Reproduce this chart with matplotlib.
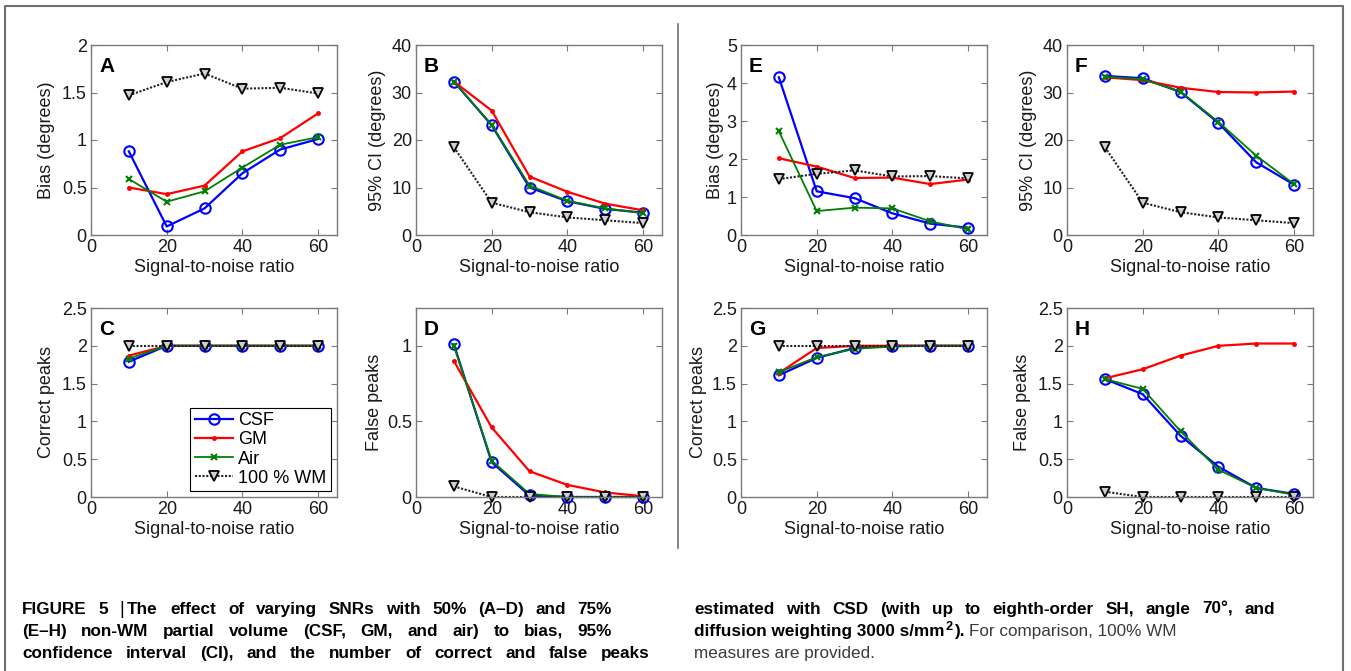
import matplotlib
matplotlib.use('Agg')
import matplotlib.pyplot as plt
from matplotlib.lines import Line2D
from matplotlib.ticker import FuncFormatter

plt.rcParams['font.family'] = ['Liberation Sans', 'DejaVu Sans']

# ---------------- data ----------------
snr = [10, 20, 30, 40, 50, 60]
series_names = ["CSF", "GM", "Air", "100 % WM"]

# 50% partial volume (A-D)
a_csf = [0.88, 0.09, 0.28, 0.65, 0.90, 1.01]
a_gm = [0.50, 0.43, 0.52, 0.88, 1.02, 1.28]
a_air = [0.59, 0.35, 0.46, 0.71, 0.95, 1.03]
wm_bias = [1.47, 1.61, 1.70, 1.54, 1.55, 1.49]

b_csf = [32.3, 23.1, 10.0, 7.1, 5.5, 4.7]
b_gm = [32.3, 26.2, 12.3, 9.1, 6.6, 5.2]
b_air = [32.3, 23.2, 10.4, 7.2, 5.6, 4.6]
wm_ci = [18.5, 6.8, 4.8, 3.7, 3.1, 2.5]

c_csf = [1.79, 2.0, 2.0, 2.0, 2.0, 2.0]
c_gm = [1.87, 2.0, 2.0, 2.0, 2.0, 2.0]
c_air = [1.83, 2.0, 2.0, 2.0, 2.0, 2.0]
wm_correct = [2.0, 2.0, 2.0, 2.0, 2.0, 2.0]

d_csf = [1.01, 0.23, 0.01, 0.0, 0.0, 0.0]
d_gm = [0.90, 0.46, 0.17, 0.08, 0.03, 0.005]
d_air = [1.00, 0.24, 0.02, 0.0, 0.0, 0.0]
wm_false = [0.07, 0.0, 0.0, 0.0, 0.0, 0.0]

# 75% partial volume (E-H)
e_csf = [4.15, 1.15, 0.97, 0.57, 0.30, 0.19]
e_gm = [2.02, 1.80, 1.50, 1.51, 1.34, 1.46]
e_air = [2.73, 0.63, 0.72, 0.70, 0.36, 0.15]

f_csf = [33.5, 33.0, 30.1, 23.6, 15.3, 10.6]
f_gm = [33.2, 32.6, 31.0, 30.1, 30.0, 30.2]
f_air = [33.3, 32.8, 30.2, 23.8, 16.7, 10.7]

g_csf = [1.61, 1.84, 1.97, 2.0, 2.0, 2.0]
g_gm = [1.64, 1.97, 2.0, 2.0, 2.0, 2.0]
g_air = [1.65, 1.85, 1.96, 1.99, 2.0, 2.0]

h_csf = [1.56, 1.36, 0.81, 0.40, 0.12, 0.04]
h_gm = [1.57, 1.69, 1.87, 2.00, 2.03, 2.03]
h_air = [1.56, 1.43, 0.87, 0.36, 0.12, 0.03]

ylabels = ["Bias (degrees)", "95% CI (degrees)", "Correct peaks", "False peaks"]
xlabel = "Signal-to-noise ratio"
letters = ["A", "B", "C", "D", "E", "F", "G", "H"]

# ---------------- layout ----------------
W, H = 1351, 671
fig = plt.figure(figsize=(W / 100, H / 100), dpi=100)


def rect(l, r, t, b):
    return [l / W, 1 - b / H, (r - l) / W, (b - t) / H]


styles = [
    dict(color='#0000ff', marker='o', mfc='none', mec='#0000ff', ms=7.5, mew=1.5, lw=1.6),
    dict(color='#ff0000', marker='.', ms=5, lw=1.6),
    dict(color='#008000', marker='x', ms=5, mew=1.5, lw=1.3),
    dict(color='#222222', ls=(0, (1.0, 0.8)), marker='v', mfc='#d0d0d0', mec='black',
         ms=7.5, mew=1.3, lw=1.5),
]

panels = [
    # letter, series, ylim, yticks, ylabel, rect(px), ylabel x (px, right edge)
    ("A", [a_csf, a_gm, a_air, wm_bias], (0, 2), [0, 0.5, 1, 1.5, 2], ylabels[0], (91, 337, 45, 235), 55),
    ("B", [b_csf, b_gm, b_air, wm_ci], (0, 40), [0, 10, 20, 30, 40], ylabels[1], (416, 662, 45, 235), 386),
    ("C", [c_csf, c_gm, c_air, wm_correct], (0, 2.5), [0, 0.5, 1, 1.5, 2, 2.5], ylabels[2], (91, 337, 308, 497), 55),
    ("D", [d_csf, d_gm, d_air, wm_false], (0, 1.25), [0, 0.5, 1], ylabels[3], (416, 662, 308, 497), 383),
    ("E", [e_csf, e_gm, e_air, wm_bias], (0, 5), [0, 1, 2, 3, 4, 5], ylabels[0], (741, 987, 45, 235), 724),
    ("F", [f_csf, f_gm, f_air, wm_ci], (0, 40), [0, 10, 20, 30, 40], ylabels[1], (1067, 1313, 45, 235), 1037),
    ("G", [g_csf, g_gm, g_air, wm_correct], (0, 2.5), [0, 0.5, 1, 1.5, 2, 2.5], ylabels[2], (741, 987, 308, 497), 707),
    ("H", [h_csf, h_gm, h_air, wm_false], (0, 2.5), [0, 0.5, 1, 1.5, 2, 2.5], ylabels[3], (1067, 1313, 308, 497), 1031),
]

fmt = FuncFormatter(lambda v, p: f"{v:g}")
spine_col = '#7a7a7a'

for letter, series, ylim, yticks, ylab, (l, r, t, b), ylx in panels:
    ax = fig.add_axes(rect(l, r, t, b))
    for name, vals, st in zip(series_names, series, styles):
        ax.plot(snr, vals, label=name, clip_on=False, **st)
    ax.set_xlim(0, 65)
    ax.set_ylim(*ylim)
    ax.set_xticks([0, 20, 40, 60])
    ax.set_yticks(yticks)
    ax.xaxis.set_major_formatter(fmt)
    ax.yaxis.set_major_formatter(fmt)
    ax.tick_params(direction='in', length=4, width=0.8, color=spine_col,
                   labelsize=13, labelcolor='#1a1a1a', top=True, right=True, pad=3)
    for s in ax.spines.values():
        s.set_color(spine_col)
        s.set_linewidth(1.0)
    ax.set_xlabel(xlabel, fontsize=13, color='#1a1a1a', labelpad=2)
    ax.set_ylabel(ylab, fontsize=13, color='#1a1a1a')
    ax.yaxis.set_label_coords((ylx - l) / (r - l), 0.5)
    ax.text(0.033, 0.935, letter, transform=ax.transAxes, fontsize=15,
            fontweight='bold', va='top', ha='left')
    if letter == "C":
        leg = ax.legend(loc='lower right', bbox_to_anchor=(0.975, 0.03), fontsize=13,
                        frameon=True, fancybox=False, edgecolor='black', framealpha=1,
                        handlelength=2.1, handletextpad=0.3, labelspacing=0.12,
                        borderpad=0.25, borderaxespad=0.0)
        leg.get_frame().set_linewidth(0.8)

# frame and divider
fig.add_artist(Line2D([5 / W, 5 / W, 1343 / W, 1343 / W],
                      [0, 1 - 6 / H, 1 - 6 / H, 0], color='#707070', lw=1.5))
fig.add_artist(Line2D([678 / W, 678 / W], [1 - 24 / H, 1 - 548 / H], color='#707070', lw=1.2))

# ---------------- caption ----------------
renderer = fig.canvas.get_renderer()
cap_fs = 12.3
B = dict(fontsize=cap_fs, fontweight='bold', color='black')
R = dict(fontsize=cap_fs, color='#3a3a3a')
BAR = dict(fontsize=cap_fs + 1, color='black')


def put(x_px, y_px, txt, kw):
    tt = fig.text(x_px / W, 1 - y_px / H, txt, va='baseline', ha='left', **kw)
    return tt.get_window_extent(renderer).width


def justify(x0, x1, y_px, words):
    """words: list of words, each a list of (text, style) pieces;
    spread them to fill x0..x1."""
    objs = []
    widths = []
    for pieces in words:
        row = []
        wsum = 0
        for txt, kw in pieces:
            tt = fig.text(0, 0, txt, va='baseline', ha='left', **kw)
            wd = tt.get_window_extent(renderer).width + (2 if len(pieces) > 1 else 0)
            row.append((tt, wd))
            wsum += wd
        objs.append(row)
        widths.append(wsum)
    gap = (x1 - x0 - sum(widths)) / (len(words) - 1)
    x = x0
    for row, wsum in zip(objs, widths):
        xx = x
        for tt, wd in row:
            tt.set_position((xx / W, 1 - y_px / H))
            xx += wd
        x += wsum + gap


def words_of(s, kw):
    return [[(w, kw)] for w in s.split(' ')]


line1 = [[("FIGURE", B)], [("5", B)], [("|", BAR), ("The", B)]] + \
    words_of("effect of varying SNRs with 50% (A\u2013D) and 75%", B)
justify(22, 612, 614, line1)
justify(22, 612, 636, words_of("(E\u2013H) non-WM partial volume (CSF, GM, and air) to bias, 95%", B))
justify(22, 650, 658, words_of("confidence interval (CI), and the number of correct and false peaks", B))
justify(694, 1275, 614, words_of("estimated with CSD (with up to eighth-order SH, angle 70\u00b0, and", B))

x = 694
x += put(x, 636, "diffusion weighting 3000 s/mm", B)
x += 1
x += put(x, 630, "2", dict(fontsize=cap_fs * 0.75, fontweight='bold', color='black'))
x += 1
x += put(x, 636, ").", B)
x += 5
put(x, 636, "For comparison, 100% WM", R)
put(694, 658, "measures are provided.", R)

fig.savefig("out.png", dpi=100, facecolor='white')
